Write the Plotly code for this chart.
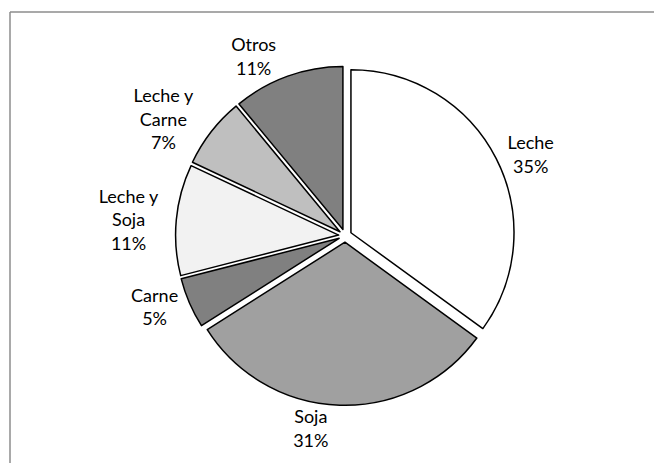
import plotly.graph_objects as go

categories = ['Leche', 'Soja', 'Carne', 'Leche y Soja', 'Leche y Carne', 'Otros']
display_labels = ['Leche', 'Soja', 'Carne', 'Leche y<br>Soja', 'Leche y<br>Carne', 'Otros']
shares = [35, 31, 5, 11, 7, 11]
colours = ['#ffffff', '#a0a0a0', '#808080', '#f2f2f2', '#bfbfbf', '#808080']

fig = go.Figure(go.Pie(
    labels=categories,
    values=shares,
    text=display_labels,
    texttemplate='%{text}<br>%{percent:.0%}',
    textposition='outside',
    sort=False,
    direction='clockwise',
    rotation=0,
    pull=[0.04] * len(categories),
    marker=dict(colors=colours, line=dict(color='#000000', width=1.5)),
    outsidetextfont=dict(family='Lato', size=18, color='#000000'),
    domain=dict(x=[0.253, 0.775], y=[0.128, 0.880]),
    automargin=False,
    hoverinfo='label+percent',
))

# chart area frame - only left and top edges are visible in the crop
fig.add_shape(type='line', xref='paper', yref='paper',
              x0=0, x1=0, y0=-0.1, y1=1,
              line=dict(color='#8c8c8c', width=1.5))
fig.add_shape(type='line', xref='paper', yref='paper',
              x0=0, x1=1.1, y0=1, y1=1,
              line=dict(color='#8c8c8c', width=1.5))

# page body adds 8px, so the figure is a bit smaller than the window
fig.update_layout(
    width=654, height=455,
    margin=dict(l=2, r=0, t=4, b=0),
    showlegend=False,
    paper_bgcolor='white',
    plot_bgcolor='white',
    font=dict(family='Lato', size=18, color='#000000'),
)

fig.write_html("out.html")
